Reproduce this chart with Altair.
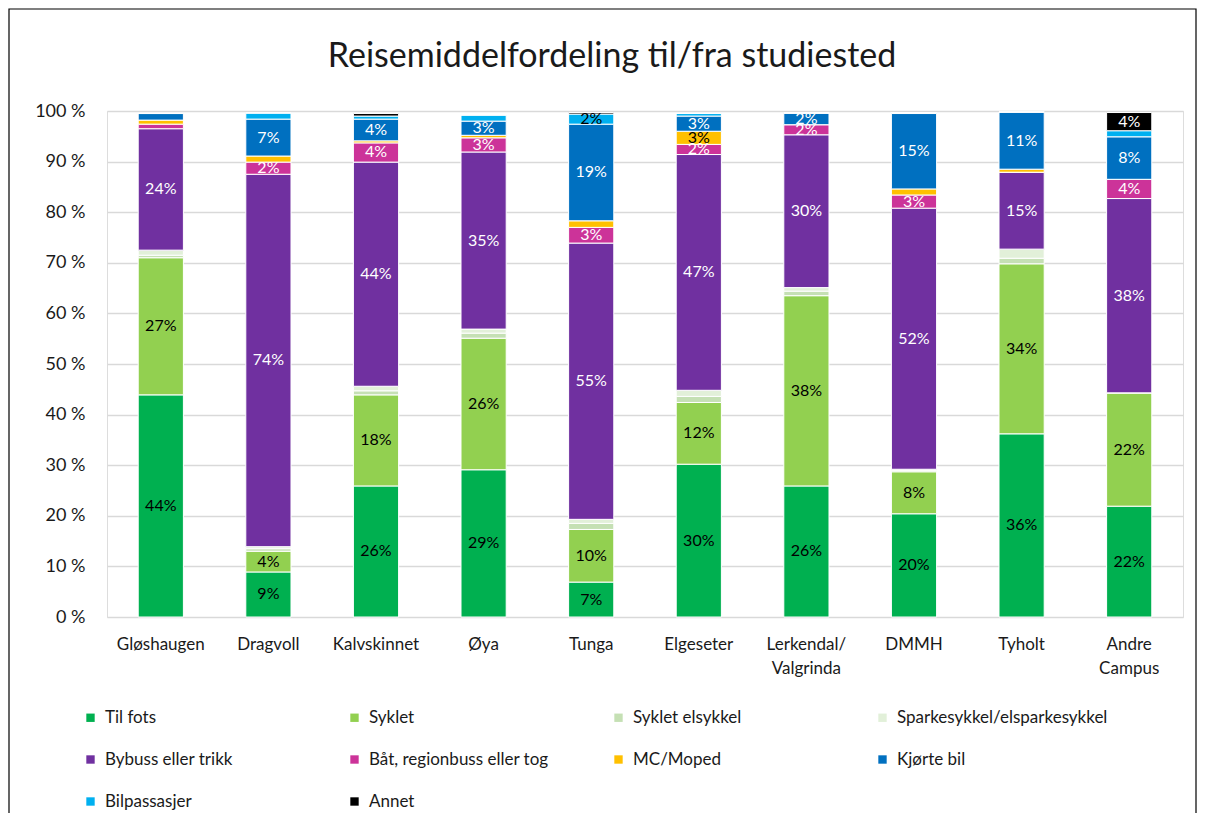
import altair as alt
import pandas as pd

campuses = ["Gløshaugen", "Dragvoll", "Kalvskinnet", "Øya", "Tunga", "Elgeseter",
            "Lerkendal/\nValgrinda", "DMMH", "Tyholt", "Andre\nCampus"]

series = ["Til fots", "Syklet", "Syklet elsykkel", "Sparkesykkel/elsparkesykkel",
          "Bybuss eller trikk", "Båt, regionbuss eller tog", "MC/Moped", "Kjørte bil",
          "Bilpassasjer", "Annet"]

til_fots = [43.9, 8.9, 25.9, 29.1, 6.9, 30.2, 25.9, 20.4, 36.2, 21.9]
syklet = [27.1, 4.1, 18.0, 26.0, 10.4, 12.2, 37.6, 8.3, 33.6, 22.4]
syklet_elsykkel = [0.5, 0.5, 0.8, 1.0, 1.2, 1.2, 0.9, 0.3, 1.1, 0.0]
sparkesykkel = [1.0, 0.4, 0.9, 0.8, 0.8, 1.2, 0.7, 0.2, 1.8, 0.0]
bybuss = [24.0, 73.6, 44.3, 35.0, 54.6, 46.6, 30.2, 51.6, 15.2, 38.4]
baat = [0.9, 2.4, 3.8, 2.8, 3.1, 2.0, 2.0, 2.6, 0.0, 3.8]
mc_moped = [0.8, 1.2, 0.4, 0.5, 1.3, 2.6, 0.0, 1.2, 0.6, 0.0]
kjorte_bil = [1.3, 7.3, 4.3, 2.8, 19.1, 3.0, 2.3, 14.9, 11.3, 8.4]
bilpassasjer = [0.0, 1.2, 0.6, 1.2, 2.0, 0.5, 0.0, 0.2, 0.0, 1.2]
annet = [0.0, 0.0, 0.5, 0.0, 0.3, 0.0, 0.0, 0.0, 0.0, 3.6]

title_text = ["Reisemiddelfordeling til/fra studiested"]

colors = ["#00b050", "#92d050", "#c5e0b4", "#e2f0d9", "#7030a0",
          "#cc3399", "#ffc000", "#0070c0", "#00b0f0", "#000000"]
label_colors = ["#000000", "#000000", "#000000", "#000000", "#ffffff",
                "#ffffff", "#000000", "#ffffff", "#000000", "#ffffff"]

values = [til_fots, syklet, syklet_elsykkel, sparkesykkel, bybuss, baat,
          mc_moped, kjorte_bil, bilpassasjer, annet]

rows = []
for si, (s, vals) in enumerate(zip(series, values)):
    for ci, c in enumerate(campuses):
        rows.append({"campus": c, "serie": s, "idx": si, "v": vals[ci],
                     "lc": label_colors[si]})
df = pd.DataFrame(rows)

FONT = "Lato"
W, H = 1076, 506

base = alt.Chart(df).transform_stack(
    stack="v", as_=["y0", "y1"], groupby=["campus"],
    sort=[alt.SortField("idx", order="ascending")]
)

xenc = alt.X("campus:N", sort=campuses, title=None,
             scale=alt.Scale(paddingInner=0.58, paddingOuter=0.29),
             axis=alt.Axis(labelAngle=0, ticks=False, domain=False,
                           labelFontSize=17, labelFont=FONT, labelColor="#1a1a1a",
                           labelPadding=19, labelLineHeight=24,
                           labelExpr="split(datum.label, '\\n')"))

yscale = alt.Scale(domain=[0, 100], nice=False)

bars = base.mark_bar(stroke="white", strokeWidth=1).encode(
    x=xenc,
    y=alt.Y("y0:Q", scale=yscale, title=None,
            axis=alt.Axis(values=list(range(0, 101, 10)), labelExpr="datum.value + ' %'",
                          ticks=False, domain=False, labelFontSize=18, labelFont=FONT,
                          labelColor="#1a1a1a", labelPadding=22,
                          gridColor="#d9d9d9", gridWidth=1.5)),
    y2="y1:Q",
    color=alt.Color("serie:N", sort=series,
                    scale=alt.Scale(domain=series, range=colors),
                    legend=alt.Legend(title=None, orient="none", legendX=-25, legendY=598,
                                      columns=4, direction="horizontal",
                                      gridAlign="all", columnPadding=30, rowPadding=24,
                                      symbolType="square", symbolSize=70,
                                      symbolStrokeWidth=0, labelFontSize=17,
                                      labelFont=FONT, labelColor="#1a1a1a",
                                      labelLimit=400, labelOffset=6)),
    order=alt.Order("idx:Q", sort="ascending"),
)

labels = base.transform_filter("datum.v >= 1.95").transform_calculate(
    mid="(datum.y0 + datum.y1) / 2",
    txt="format(datum.v, '.0f') + '%'"
).mark_text(fontSize=16, font=FONT, baseline="middle").encode(
    x=alt.X("campus:N", sort=campuses),
    y=alt.Y("mid:Q", scale=yscale),
    text="txt:N",
    color=alt.Color("lc:N", scale=None),
)

title = alt.Chart(pd.DataFrame({"t": title_text})).mark_text(
    fontSize=34, font=FONT, color="#1a1a1a", align="center", baseline="middle"
).encode(text="t:N", x=alt.value(505), y=alt.value(-54))

frame = alt.Chart(pd.DataFrame({"a": [0]})).mark_rect(
    fill="#ffffff", fillOpacity=0, stroke="#000000", strokeWidth=1.2
).encode(
    x=alt.value(-98), x2=alt.value(1089), y=alt.value(-102), y2=alt.value(740)
)

chart = alt.layer(bars, labels, title, frame).properties(
    width=W, height=H,
    autosize=alt.AutoSizeParams(type="none"),
    padding={"left": 99, "top": 103, "right": 14, "bottom": 196},
).configure_view(stroke=None).configure(background="white")

chart.save("out.html", embed_options={"renderer": "svg", "actions": False})
